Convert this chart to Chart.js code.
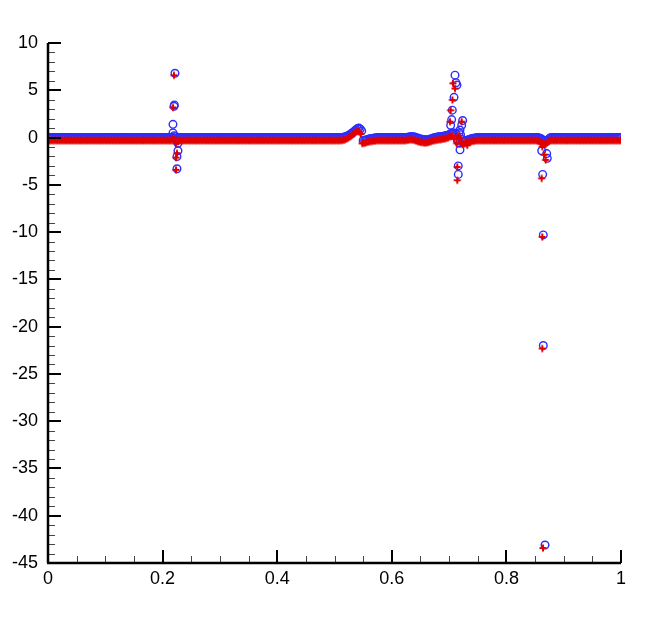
<!DOCTYPE html>
<html>
<head>
<meta charset="utf-8">
<script src="https://cdn.jsdelivr.net/npm/chart.js@4.4.1/dist/chart.umd.min.js"></script>
<style>
html,body{margin:0;padding:0;background:#fff;}
#wrap{width:648px;height:640px;}
</style>
</head>
<body>
<div id="wrap"><canvas id="c" width="648" height="640"></canvas></div>
<script>
// ---- data ----
const gridX = [
0,0.0025,0.005,0.0075,0.01,0.0125,0.015,0.0175,0.02,0.0225,
0.025,0.0275,0.03,0.0325,0.035,0.0375,0.04,0.0425,0.045,0.0475,
0.05,0.0525,0.055,0.0575,0.06,0.0625,0.065,0.0675,0.07,0.0725,
0.075,0.0775,0.08,0.0825,0.085,0.0875,0.09,0.0925,0.095,0.0975,
0.1,0.1025,0.105,0.1075,0.11,0.1125,0.115,0.1175,0.12,0.1225,
0.125,0.1275,0.13,0.1325,0.135,0.1375,0.14,0.1425,0.145,0.1475,
0.15,0.1525,0.155,0.1575,0.16,0.1625,0.165,0.1675,0.17,0.1725,
0.175,0.1775,0.18,0.1825,0.185,0.1875,0.19,0.1925,0.195,0.1975,
0.2,0.2025,0.205,0.2075,0.21,0.2125,0.215,0.2175,0.22,0.2225,
0.225,0.2275,0.23,0.2325,0.235,0.2375,0.24,0.2425,0.245,0.2475,
0.25,0.2525,0.255,0.2575,0.26,0.2625,0.265,0.2675,0.27,0.2725,
0.275,0.2775,0.28,0.2825,0.285,0.2875,0.29,0.2925,0.295,0.2975,
0.3,0.3025,0.305,0.3075,0.31,0.3125,0.315,0.3175,0.32,0.3225,
0.325,0.3275,0.33,0.3325,0.335,0.3375,0.34,0.3425,0.345,0.3475,
0.35,0.3525,0.355,0.3575,0.36,0.3625,0.365,0.3675,0.37,0.3725,
0.375,0.3775,0.38,0.3825,0.385,0.3875,0.39,0.3925,0.395,0.3975,
0.4,0.4025,0.405,0.4075,0.41,0.4125,0.415,0.4175,0.42,0.4225,
0.425,0.4275,0.43,0.4325,0.435,0.4375,0.44,0.4425,0.445,0.4475,
0.45,0.4525,0.455,0.4575,0.46,0.4625,0.465,0.4675,0.47,0.4725,
0.475,0.4775,0.48,0.4825,0.485,0.4875,0.49,0.4925,0.495,0.4975,
0.5,0.5025,0.505,0.5075,0.51,0.5125,0.515,0.5175,0.52,0.5225,
0.525,0.5275,0.53,0.5325,0.535,0.5375,0.54,0.5425,0.545,0.5475,
0.55,0.5525,0.555,0.5575,0.56,0.5625,0.565,0.5675,0.57,0.5725,
0.575,0.5775,0.58,0.5825,0.585,0.5875,0.59,0.5925,0.595,0.5975,
0.6,0.6025,0.605,0.6075,0.61,0.6125,0.615,0.6175,0.62,0.6225,
0.625,0.6275,0.63,0.6325,0.635,0.6375,0.64,0.6425,0.645,0.6475,
0.65,0.6525,0.655,0.6575,0.66,0.6625,0.665,0.6675,0.67,0.6725,
0.675,0.6775,0.68,0.6825,0.685,0.6875,0.69,0.6925,0.695,0.6975,
0.7,0.7025,0.705,0.7075,0.71,0.7125,0.715,0.7175,0.72,0.7225,
0.725,0.7275,0.73,0.7325,0.735,0.7375,0.74,0.7425,0.745,0.7475,
0.75,0.7525,0.755,0.7575,0.76,0.7625,0.765,0.7675,0.77,0.7725,
0.775,0.7775,0.78,0.7825,0.785,0.7875,0.79,0.7925,0.795,0.7975,
0.8,0.8025,0.805,0.8075,0.81,0.8125,0.815,0.8175,0.82,0.8225,
0.825,0.8275,0.83,0.8325,0.835,0.8375,0.84,0.8425,0.845,0.8475,
0.85,0.8525,0.855,0.8575,0.86,0.8625,0.865,0.8675,0.87,0.8725,
0.875,0.8775,0.88,0.8825,0.885,0.8875,0.89,0.8925,0.895,0.8975,
0.9,0.9025,0.905,0.9075,0.91,0.9125,0.915,0.9175,0.92,0.9225,
0.925,0.9275,0.93,0.9325,0.935,0.9375,0.94,0.9425,0.945,0.9475,
0.95,0.9525,0.955,0.9575,0.96,0.9625,0.965,0.9675,0.97,0.9725,
0.975,0.9775,0.98,0.9825,0.985,0.9875,0.99,0.9925,0.995,0.9975,
1
];
const gridY = [
0,0,0,0,0,0,0,0,0,0,
0,0,0,0,0,0,0,0,0,0,
0,0,0,0,0,0,0,0,0,0,
0,0,0,0,0,0,0,0,0,0,
0,0,0,0,0,0,0,0,0,0,
0,0,0,0,0,0,0,0,0,0,
0,0,0,0,0,0,0,0,0,0,
0,0,0,0,0,0,0,0,0,0,
0,0,0,0,0,0,0,0,0.2,0.1,
-0.3,0,0,0,0,0,0,0,0,0,
0,0,0,0,0,0,0,0,0,0,
0,0,0,0,0,0,0,0,0,0,
0,0,0,0,0,0,0,0,0,0,
0,0,0,0,0,0,0,0,0,0,
0,0,0,0,0,0,0,0,0,0,
0,0,0,0,0,0,0,0,0,0,
0,0,0,0,0,0,0,0,0,0,
0,0,0,0,0,0,0,0,0,0,
0,0,0,0,0,0,0,0,0,0,
0,0,0,0,0,0,0,0,0,0,
0,0,0,0,0,0.01,0.02,0.05,0.1,0.17,
0.25,0.35,0.45,0.57,0.7,0.82,0.95,1.0,0.9,0.7,
-0.3,-0.28,-0.25,-0.2,-0.15,-0.12,-0.1,-0.07,-0.05,-0.03,
0,0,0,0,0,0,0,0,0,0,
0,0,0,0,0,0,0,0,0,0,
0,0.03,0.05,0.08,0.1,0.08,0.05,0,-0.05,-0.1,
-0.15,-0.18,-0.2,-0.22,-0.25,-0.22,-0.2,-0.15,-0.1,-0.05,
0,0.02,0.05,0.08,0.1,0.12,0.15,0.18,0.2,0.25,
0.3,0.4,0.45,0.5,0.2,0.4,-0.3,0.5,0.3,-0.2,
-0.4,-0.35,-0.3,-0.25,-0.2,-0.15,-0.1,-0.08,-0.05,-0.02,
0,0,0,0,0,0,0,0,0,0,
0,0,0,0,0,0,0,0,0,0,
0,0,0,0,0,0,0,0,0,0,
0,0,0,0,0,0,0,0,0,0,
0,0,0,-0.05,-0.1,-0.2,-0.3,-0.35,-0.4,-0.25,
-0.1,0,0,0,0,0,0,0,0,0,
0,0,0,0,0,0,0,0,0,0,
0,0,0,0,0,0,0,0,0,0,
0,0,0,0,0,0,0,0,0,0,
0,0,0,0,0,0,0,0,0,0,
0
];
const blueSpikeX = [0.2216,0.2199,0.2205,0.2181,0.2181,0.2268,0.2268,0.2251,0.2251,
  0.7103,0.712,0.7138,0.7086,0.7056,0.7045,0.7027,0.7237,0.722,0.719,0.7178,0.719,0.716,0.716,
  0.8616,0.8703,0.8714,0.8633,0.8644,0.8644,0.8674];
const blueSpikeY = [6.8,3.3,3.45,1.4,0.5,-0.6,-1.4,-2.0,-3.3,
  6.6,5.8,5.55,4.25,2.9,1.9,1.3,1.8,1.3,0.8,-0.6,-1.3,-3.0,-3.9,
  -1.4,-1.7,-2.2,-3.9,-10.3,-22.0,-43.1];
const redSpikeX = [0.2216,0.2199,0.2285,0.2268,0.2251,0.2251,
  0.7086,0.712,0.7075,0.7045,0.7033,0.7237,0.716,0.716,0.7335,0.7307,
  0.8616,0.8644,0.8674,0.8703,0.8633,0.8644,0.8644,0.8656];
const redSpikeY = [6.9,3.5,-0.1,-1.35,-1.8,-3.1,
  6.05,5.5,4.3,3.2,2.0,2.0,-2.8,-4.2,-0.5,-0.1,
  -0.3,-0.65,-1.5,-2.05,-4.0,-10.2,-22.0,-43.1];
const xTicks = [0,0.2,0.4,0.6,0.8,1];
const xTickLabels = ['0','0.2','0.4','0.6','0.8','1'];
const yTicks = [-45,-40,-35,-30,-25,-20,-15,-10,-5,0,5,10];
const yTickLabels = ['-45','-40','-35','-30','-25','-20','-15','-10','-5','0','5','10'];

// ---- build points ----
function pts(xs, ys){ return xs.map((x,i)=>({x:x,y:ys[i]})); }
const bluePts = pts(gridX, gridY).concat(pts(blueSpikeX, blueSpikeY));
const redPts = pts(gridX, gridY).concat(pts(redSpikeX, redSpikeY));

// red plus glyph (drawn slightly below/left of its point, as in the reference)
const plus = document.createElement('canvas');
plus.width = 16; plus.height = 16;
(function(){
  const g = plus.getContext('2d');
  g.strokeStyle = 'rgb(225,0,0)';
  g.lineWidth = 2;
  const cx = 7, cy = 11, a = 3.5;
  g.beginPath();
  g.moveTo(cx - a, cy); g.lineTo(cx + a, cy);
  g.moveTo(cx, cy - a); g.lineTo(cx, cy + a);
  g.stroke();
})();

const axesPlugin = {
  id: 'tecAxes',
  afterDraw(chart){
    const ctx = chart.ctx, xs = chart.scales.x, ys = chart.scales.y;
    const L = xs.left, R = xs.right, T = ys.top, B = ys.bottom;
    ctx.save();
    ctx.strokeStyle = '#444'; ctx.lineWidth = 1;
    ctx.beginPath();
    for (let v = -45; v <= 10; v += 1) {
      if (v % 5 === 0) continue;
      const p = Math.round(ys.getPixelForValue(v)) + 0.5;
      ctx.moveTo(L, p); ctx.lineTo(L + 7, p);
    }
    for (let k = 0; k <= 20; k++) {
      if (k % 4 === 0) continue;
      const p = Math.round(xs.getPixelForValue(k * 0.05)) + 0.5;
      ctx.moveTo(p, B); ctx.lineTo(p, B - 7);
    }
    ctx.stroke();
    ctx.strokeStyle = '#000'; ctx.lineWidth = 2;
    ctx.beginPath();
    yTicks.forEach(v => { const p = Math.round(ys.getPixelForValue(v)); ctx.moveTo(L, p); ctx.lineTo(L + 13, p); });
    xTicks.forEach(v => { const p = Math.round(xs.getPixelForValue(v)); ctx.moveTo(p, B); ctx.lineTo(p, B - 13); });
    ctx.stroke();
    ctx.lineWidth = 2.5;
    ctx.beginPath();
    ctx.moveTo(L, T); ctx.lineTo(L, B);
    ctx.moveTo(L - 1, B); ctx.lineTo(R, B);
    ctx.stroke();
    ctx.restore();
  }
};

Chart.defaults.font.family = "'Liberation Sans', Arial, sans-serif";
Chart.defaults.font.size = 18;
Chart.defaults.color = '#000';

new Chart(document.getElementById('c'), {
  type: 'scatter',
  data: {
    datasets: [
      { label: 'blue', data: bluePts, order: 2, pointStyle: 'circle', pointRadius: 3.8,
        borderColor: 'rgb(45,45,255)', backgroundColor: 'rgba(0,0,0,0)', borderWidth: 1.4,
        pointHoverRadius: 3.8 },
      { label: 'red', data: redPts, order: 1, pointStyle: plus, pointRadius: 8,
        borderColor: 'rgb(225,0,0)', backgroundColor: 'rgb(225,0,0)' }
    ]
  },
  options: {
    responsive: false,
    animation: false,
    events: [],
    layout: { padding: { top: 43, right: 27, left: 0, bottom: 0 } },
    plugins: { legend: { display: false }, tooltip: { enabled: false } },
    scales: {
      x: {
        type: 'linear', min: 0, max: 1,
        grid: { display: false, drawTicks: false },
        border: { display: false },
        afterBuildTicks: s => { s.ticks = xTicks.map(v => ({ value: v })); },
        afterFit: s => { s.height = 77; },
        ticks: { padding: 5, maxRotation: 0, autoSkip: false,
          callback: (v) => xTickLabels[xTicks.indexOf(v)] }
      },
      y: {
        type: 'linear', min: -45, max: 10,
        grid: { display: false, drawTicks: false },
        border: { display: false },
        afterBuildTicks: s => { s.ticks = yTicks.map(v => ({ value: v })); },
        afterFit: s => { s.width = 48; },
        ticks: { padding: 10, autoSkip: false,
          callback: (v) => yTickLabels[yTicks.indexOf(v)] }
      }
    }
  },
  plugins: [axesPlugin]
});
</script>
</body>
</html>
